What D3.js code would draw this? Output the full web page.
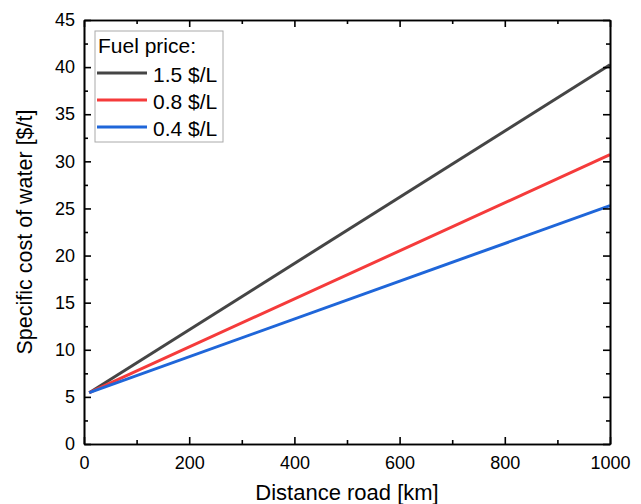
<!DOCTYPE html>
<html>
<head>
<meta charset="utf-8">
<script src="https://cdn.jsdelivr.net/npm/d3@7"></script>
<style>
  body { margin: 0; background: #fff; }
  svg { font-family: "Liberation Sans", Arial, sans-serif; }
</style>
</head>
<body>
<svg id="chart" width="641" height="504"></svg>
<script>
// data
const distance = [10, 1000];
const series = [
  { label: "1.5 $/L", color: "#454545", values: [5.45, 40.25] },
  { label: "0.8 $/L", color: "#f53b3b", values: [5.45, 30.7] },
  { label: "0.4 $/L", color: "#1f66d9", values: [5.45, 25.3] }
];
const xTicks = [0, 200, 400, 600, 800, 1000];
const yTicks = [0, 5, 10, 15, 20, 25, 30, 35, 40, 45];

const margin = { left: 84, right: 31, top: 20, bottom: 60 };
const width = 641 - margin.left - margin.right;
const height = 504 - margin.top - margin.bottom;

const svg = d3.select("#chart");
const g = svg.append("g").attr("transform", `translate(${margin.left},${margin.top})`);

const x = d3.scaleLinear().domain([0, 1000]).range([0, width]);
const y = d3.scaleLinear().domain([0, 45]).range([height, 0]);

// lines
const line = d3.line().x((d, i) => x(distance[i])).y(d => y(d));
series.forEach(s => {
  g.append("path")
    .datum(s.values)
    .attr("d", line)
    .attr("fill", "none")
    .attr("stroke", s.color)
    .attr("stroke-width", 3);
});

// axes: major ticks inward, minor ticks between
function styleAxis(sel) {
  sel.select(".domain").attr("stroke", "#000").attr("stroke-width", 1.6);
  sel.selectAll(".tick line").attr("stroke", "#000").attr("stroke-width", 1.6);
  sel.selectAll("text").attr("font-size", 18).attr("fill", "#000");
}
const xMinor = d3.range(100, 1000, 200);
const yMinor = d3.range(2.5, 45, 5);

g.append("g").attr("transform", `translate(0,${height})`)
  .call(d3.axisBottom(x).tickValues(xTicks).tickSize(-7).tickPadding(12).tickFormat(d3.format("d")).tickSizeOuter(0))
  .call(styleAxis);
g.append("g").attr("transform", `translate(0,${height})`)
  .call(d3.axisBottom(x).tickValues(xMinor).tickSize(-4).tickFormat("").tickSizeOuter(0))
  .call(styleAxis);
g.append("g")
  .call(d3.axisTop(x).tickValues(xTicks).tickSize(-7).tickFormat("").tickSizeOuter(0))
  .call(styleAxis);
g.append("g")
  .call(d3.axisTop(x).tickValues(xMinor).tickSize(-4).tickFormat("").tickSizeOuter(0))
  .call(styleAxis);

g.append("g")
  .call(d3.axisLeft(y).tickValues(yTicks).tickSize(-7).tickPadding(9).tickSizeOuter(0))
  .call(styleAxis);
g.append("g")
  .call(d3.axisLeft(y).tickValues(yMinor).tickSize(-4).tickFormat("").tickSizeOuter(0))
  .call(styleAxis);
g.append("g").attr("transform", `translate(${width},0)`)
  .call(d3.axisRight(y).tickValues(yTicks).tickSize(-7).tickFormat("").tickSizeOuter(0))
  .call(styleAxis);
g.append("g").attr("transform", `translate(${width},0)`)
  .call(d3.axisRight(y).tickValues(yMinor).tickSize(-4).tickFormat("").tickSizeOuter(0))
  .call(styleAxis);

// axis titles
svg.append("text")
  .attr("x", margin.left + width / 2).attr("y", 500)
  .attr("text-anchor", "middle").attr("font-size", 22)
  .text("Distance road [km]");
svg.append("text")
  .attr("transform", `translate(32,${margin.top + height / 2}) rotate(-90)`)
  .attr("text-anchor", "middle").attr("font-size", 21.5)
  .text("Specific cost of water [$/t]");

// legend
const leg = g.append("g").attr("transform", "translate(11,11)");
leg.append("rect")
  .attr("width", 128).attr("height", 111)
  .attr("fill", "#fff").attr("stroke", "#aaa").attr("stroke-width", 1);
leg.append("text").attr("x", 3).attr("y", 22).attr("font-size", 21).text("Fuel price:");
series.forEach((s, i) => {
  const ly = 42 + i * 27;
  leg.append("line")
    .attr("x1", 2).attr("x2", 52).attr("y1", ly).attr("y2", ly)
    .attr("stroke", s.color).attr("stroke-width", 3);
  leg.append("text").attr("x", 58).attr("y", ly + 8.5).attr("font-size", 21).text(s.label);
});
</script>
</body>
</html>
